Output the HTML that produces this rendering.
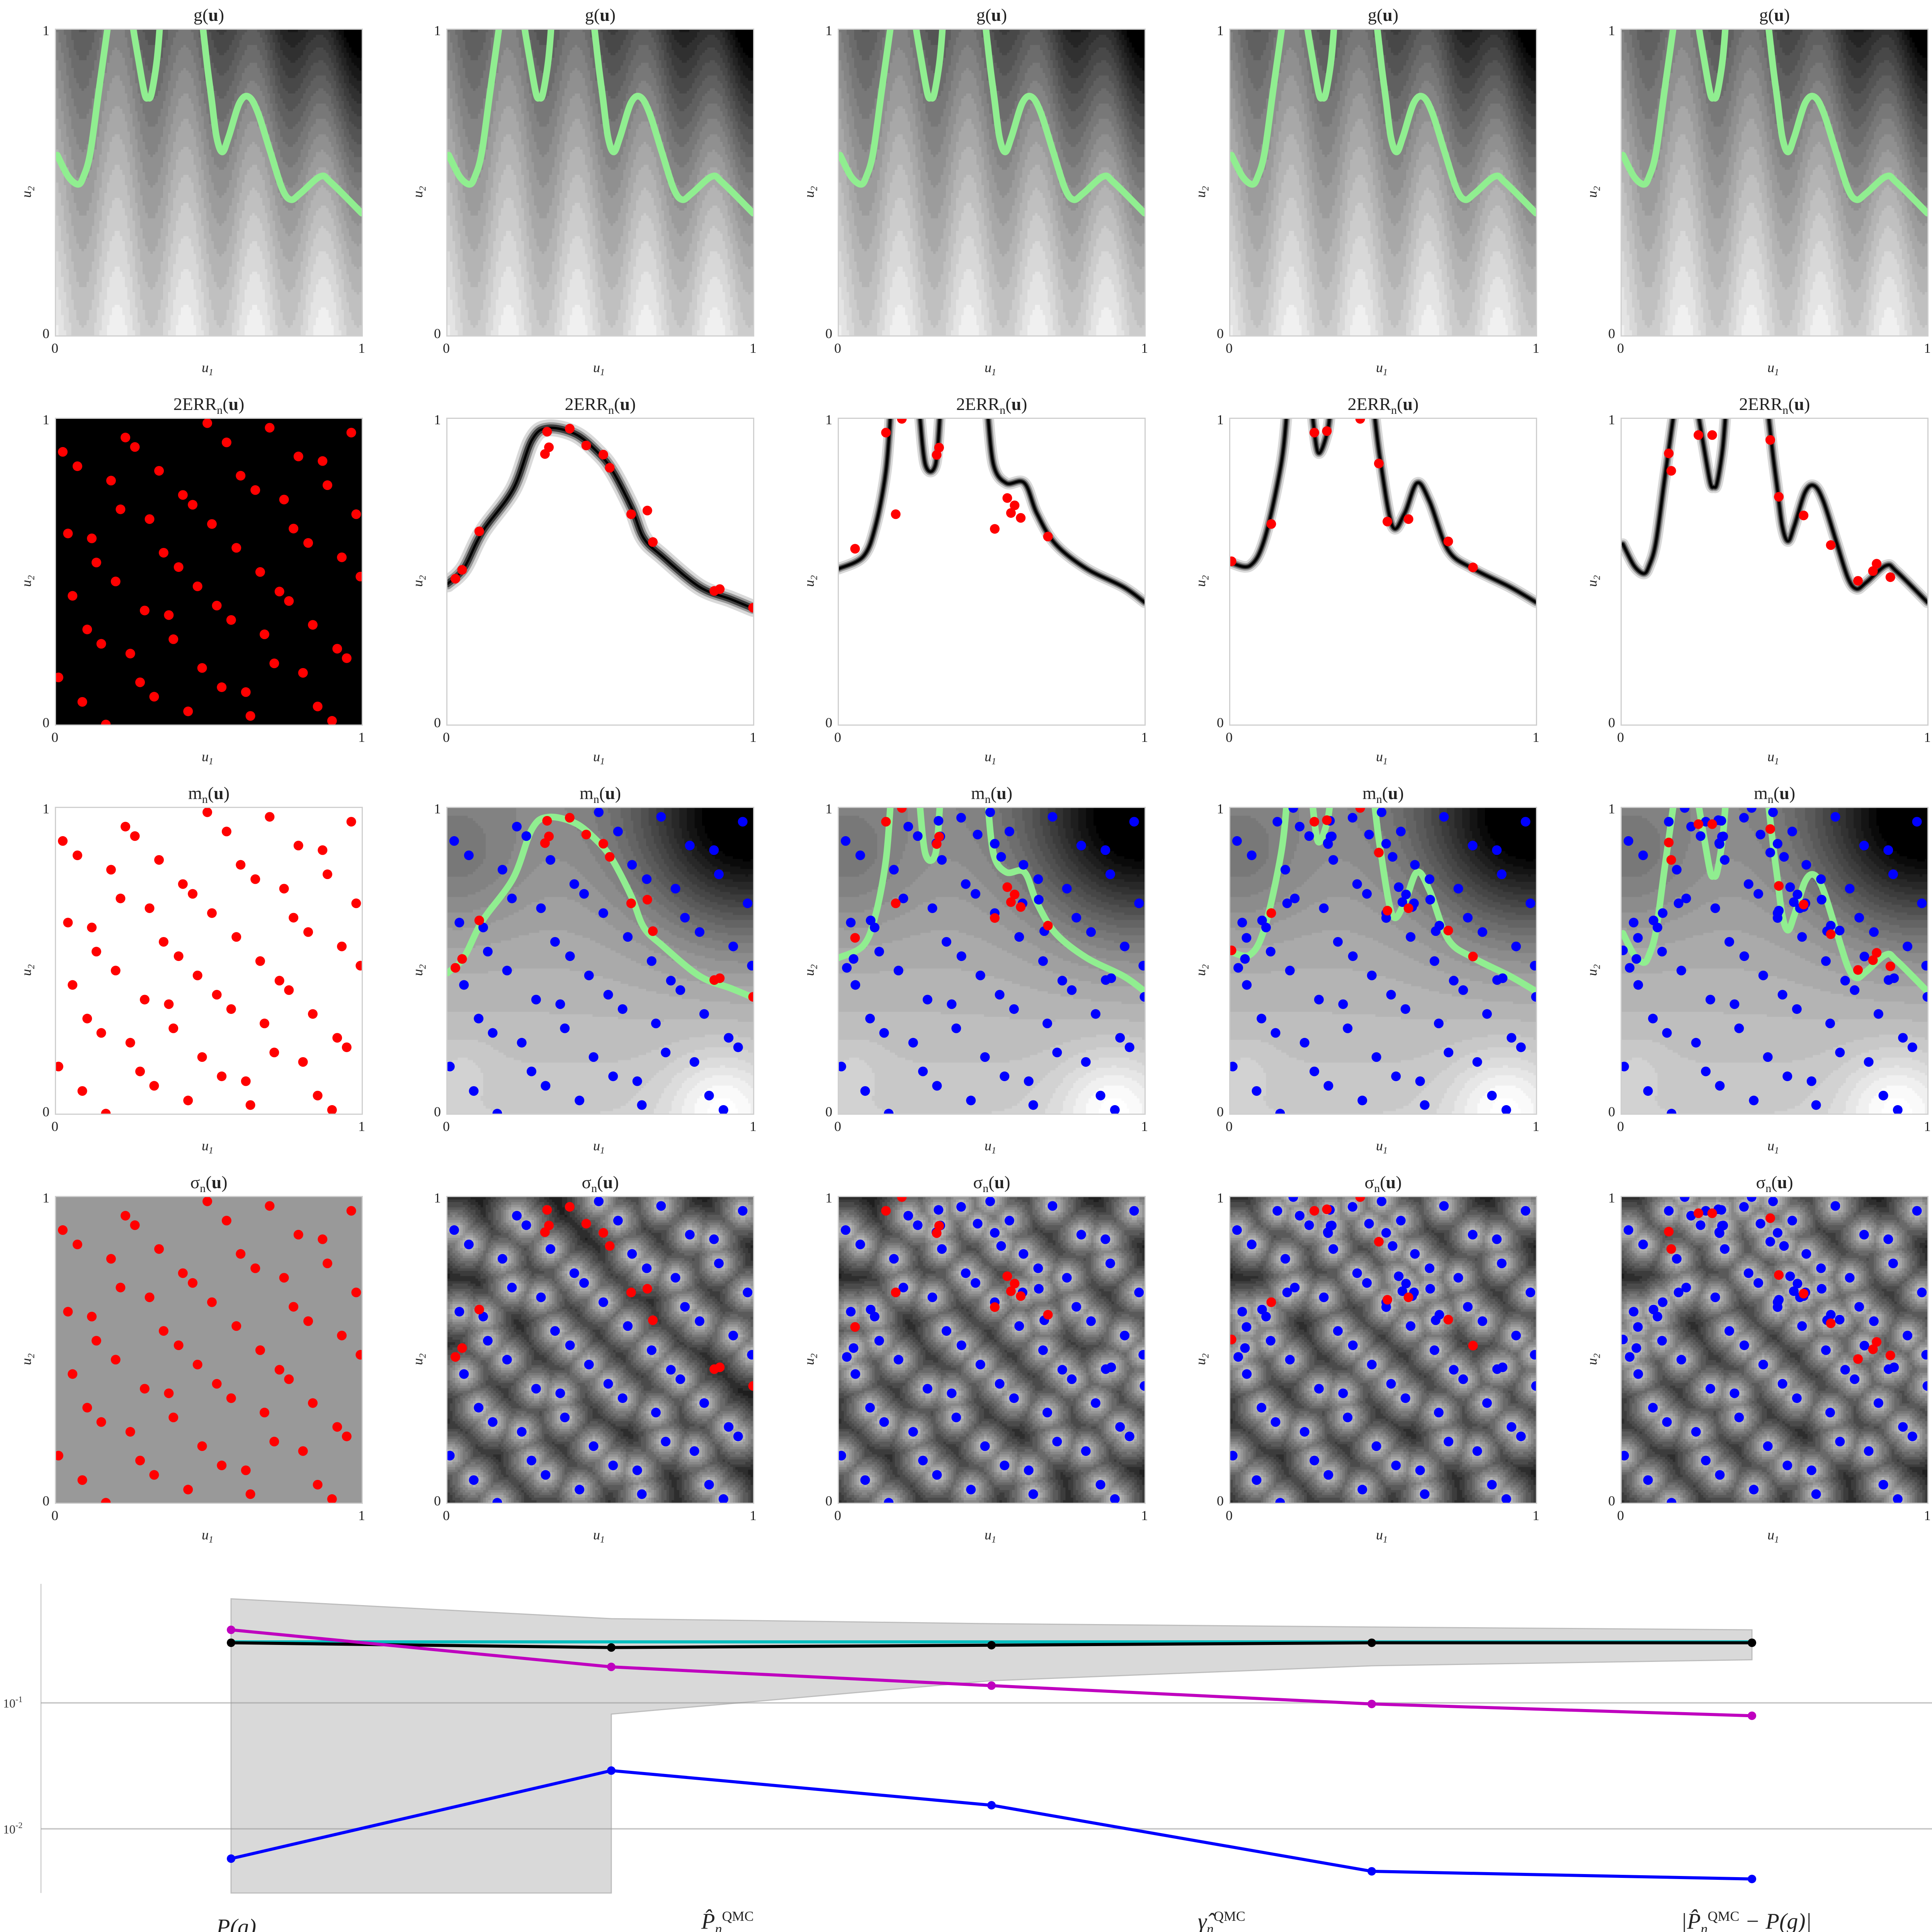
<!DOCTYPE html>
<html><head><meta charset="utf-8">
<style>
html,body{margin:0;padding:0;background:#fff;width:5043px;height:5072px;overflow:hidden;}
#root{position:absolute;left:0;top:0;width:5043px;height:5072px;overflow:hidden;font-family:"Liberation Serif",serif;}
.panel{position:absolute;width:797px;height:797px;box-sizing:border-box;border:3px solid #cfcfcf;background:#fff;overflow:hidden;}
.panel svg{position:absolute;left:0;top:0;width:791px;height:791px;overflow:hidden;}
.t{position:absolute;color:#222;white-space:nowrap;line-height:1.1;}
.title{font-size:46px;text-align:center;width:797px;}
.tick{font-size:36px;}
.alab{font-size:36px;font-style:italic;}
.leg{position:absolute;font-size:58px;font-style:italic;color:#222;white-space:nowrap;line-height:1.1;}
</style></head><body>
<div id="root">
<div id="grid" style="position:absolute;left:0;top:0;width:5043px;height:4050px;"></div>
<svg id="conv" style="position:absolute;left:0;top:4050px;display:block;" width="5043" height="1022" viewBox="0 0 5043 1022"></svg>
<div class="leg" style="left:560px;top:4955px;">P(g)</div>
<div class="leg" style="left:1815px;top:4940px;">P&#770;<sub style="font-size:36px">n</sub><sup style="font-size:36px;font-style:normal">QMC</sup></div>
<div class="leg" style="left:3100px;top:4940px;">&#947;&#770;<sub style="font-size:36px">n</sub><sup style="font-size:36px;font-style:normal">QMC</sup></div>
<div class="leg" style="left:4350px;top:4940px;">|P&#770;<sub style="font-size:36px">n</sub><sup style="font-size:36px;font-style:normal">QMC</sup> &#8722; P(g)|</div>
</div>
<script>
// ---------- data: point sets ----------
const basePts=[[0.495,0.986],[0.699,0.971],[0.966,0.955],[0.227,0.939],[0.258,0.908],[0.558,0.923],[0.022,0.892],[0.793,0.877],[0.872,0.862],[0.070,0.845],[0.337,0.830],[0.604,0.814],[0.180,0.798],[0.888,0.783],[0.652,0.767],[0.415,0.751],[0.447,0.719],[0.746,0.736],[0.211,0.704],[0.982,0.688],[0.306,0.672],[0.510,0.656],[0.039,0.625],[0.777,0.641],[0.117,0.609],[0.825,0.594],[0.590,0.578],[0.352,0.562],[0.935,0.547],[0.132,0.530],[0.401,0.515],[0.668,0.499],[0.996,0.484],[0.195,0.468],[0.463,0.452],[0.731,0.435],[0.054,0.421],[0.762,0.404],[0.526,0.389],[0.290,0.373],[0.369,0.358],[0.573,0.342],[0.840,0.326],[0.102,0.311],[0.682,0.295],[0.384,0.279],[0.148,0.264],[0.920,0.248],[0.243,0.232],[0.951,0.217],[0.714,0.200],[0.478,0.185],[0.808,0.169],[0.008,0.154],[0.275,0.138],[0.542,0.122],[0.621,0.106],[0.086,0.074],[0.321,0.091],[0.856,0.059],[0.432,0.043],[0.636,0.028],[0.903,0.012],[0.163,0.000]];
const reds2=[[0.326,0.958],[0.400,0.968],[0.332,0.907],[0.319,0.885],[0.454,0.913],[0.510,0.883],[0.531,0.840],[0.601,0.688],[0.654,0.700],[0.672,0.597],[0.104,0.632],[0.048,0.506],[0.026,0.477],[0.873,0.437],[0.891,0.443],[1.0,0.382]];
const reds3=[[0.154,0.955],[0.206,1.0],[0.328,0.906],[0.320,0.882],[0.551,0.741],[0.575,0.717],[0.563,0.692],[0.684,0.615],[0.595,0.676],[0.510,0.640],[0.053,0.575],[0.186,0.688]];
const reds4=[[0.275,0.955],[0.316,0.960],[0.425,1.0],[0.486,0.854],[0.514,0.664],[0.583,0.672],[0.713,0.599],[0.794,0.514],[0.134,0.656],[0.004,0.534]];
const reds5=[[0.251,0.947],[0.154,0.887],[0.162,0.830],[0.486,0.931],[0.514,0.745],[0.595,0.684],[0.684,0.587],[0.773,0.470],[0.822,0.502],[0.879,0.482],[0.834,0.526],[0.296,0.947]];
// ---------- data: limit-state curves ----------
const curveTrue=[[[0.004,0.59],[0.04,0.52],[0.072,0.494],[0.09,0.52],[0.112,0.597],[0.14,0.8],[0.172,1.03]],[[0.248,1.03],[0.27,0.9],[0.29,0.79],[0.301,0.777],[0.312,0.79],[0.33,0.9],[0.341,1.03]],[[0.478,1.03],[0.495,0.88],[0.509,0.773],[0.525,0.65],[0.544,0.60],[0.565,0.65],[0.6,0.76],[0.630,0.781],[0.66,0.73],[0.702,0.598],[0.74,0.48],[0.768,0.444],[0.8,0.465],[0.865,0.52],[0.9,0.5],[1.0,0.40]]];
const curve2=[[[0,0.46],[0.053,0.51],[0.114,0.63],[0.215,0.77],[0.276,0.93],[0.329,0.97],[0.419,0.95],[0.492,0.89],[0.54,0.83],[0.602,0.71],[0.642,0.61],[0.703,0.55],[0.825,0.45],[0.927,0.41],[1,0.38]]];
const curve3=[[[0,0.51],[0.08,0.55],[0.12,0.65],[0.154,0.83],[0.17,1.03]],[[0.263,1.03],[0.283,0.85],[0.316,0.85],[0.332,1.03]],[[0.486,1.03],[0.506,0.85],[0.547,0.79],[0.607,0.79],[0.648,0.69],[0.709,0.59],[0.81,0.51],[0.931,0.45],[1,0.40]]];
const curve4=[[[0,0.53],[0.065,0.52],[0.113,0.61],[0.166,0.85],[0.186,1.03]],[[0.267,1.03],[0.287,0.89],[0.316,0.95],[0.328,1.03]],[[0.470,1.03],[0.49,0.87],[0.53,0.65],[0.57,0.69],[0.611,0.79],[0.652,0.73],[0.713,0.57],[0.794,0.51],[0.915,0.45],[1,0.40]]];
// ---------- data: convergence chart ----------
const iterations=[0,1,2,3,4];
const probTrue=[0.305,0.305,0.305,0.305,0.305];
const probEst=[0.30,0.275,0.287,0.30,0.30];
const gammaEst=[0.38,0.193,0.137,0.098,0.079];
const absErr=[0.0058,0.029,0.0154,0.0046,0.0040];
const bandUpper=[0.67,0.466,0.425,0.40,0.38];
const bandLower=[null,0.0815,0.15,0.197,0.22];
const yTickVals=[0.1,0.01];
const yTickExp=["-1","-2"];

const NS='http://www.w3.org/2000/svg';
const S=791;
const grid=document.getElementById('grid');
const redsByCol=[null,reds2,reds3,reds4,reds5];
const estCurves=[null,curve2,curve3,curve4,curveTrue];
const titles=['g(<b>u</b>)','2ERR<sub style="font-size:30px">n</sub>(<b>u</b>)','m<sub style="font-size:30px">n</sub>(<b>u</b>)','&#963;<sub style="font-size:30px">n</sub>(<b>u</b>)'];
const rowNames=['g','err','mean','sigma'];

function sx(u){return u*S;}
function sy(v){return (1-v)*S;}
function pathD(pts){
  const P=pts.map(p=>[sx(p[0]),sy(p[1])]);
  let d='M'+P[0][0].toFixed(1)+' '+P[0][1].toFixed(1);
  for(let i=0;i<P.length-1;i++){
    const p0=P[i-1]||P[i],p1=P[i],p2=P[i+1],p3=P[i+2]||P[i+1];
    const c1=[p1[0]+(p2[0]-p0[0])/6,p1[1]+(p2[1]-p0[1])/6];
    const c2=[p2[0]-(p3[0]-p1[0])/6,p2[1]-(p3[1]-p1[1])/6];
    d+=' C'+c1[0].toFixed(1)+' '+c1[1].toFixed(1)+' '+c2[0].toFixed(1)+' '+c2[1].toFixed(1)+' '+p2[0].toFixed(1)+' '+p2[1].toFixed(1);
  }
  return d;
}
function q(v,levels){return Math.round(v/levels)*levels;}
function gField(u1,u2){
  const w=Math.cos(2*Math.PI*(u1-0.2)/0.225);
  let V=0.42*u2+0.55*Math.pow(u1,2.5)*u2*u2-0.1*w+0.1*u2*u2;
  let g=222-215*V;
  return q(Math.max(0,Math.min(250,g)),12);
}
function mField(u1,u2){
  let g=205-60*u2-170*Math.exp(-((u1-0.98)**2+(u2-0.95)**2)/0.12)+55*Math.exp(-((u1-0.9)**2+(u2-0.02)**2)/0.03)-35*Math.exp(-((u1-0.03)**2+(u2-0.82)**2)/0.05)+12*Math.exp(-((u1-0.05)**2+(u2-0.15)**2)/0.01);
  return q(Math.max(0,Math.min(255,g)),10);
}
function sField(u1,u2,pts){
  let m=1e9;
  for(const p of pts){const d=(u1-p[0])**2+(u2-p[1])**2;if(d<m)m=d;}
  const d=Math.sqrt(m);
  let t=Math.min(1,d/0.12);
  let g=245-210*Math.pow(t,0.6);
  return q(Math.max(10,g),15);
}
// field rendered as run-length-merged SVG rects (no canvas)
function drawField(svg,fn){
  const N=120,cell=S/N;
  const g=document.createElementNS(NS,'g');
  g.setAttribute('shape-rendering','crispEdges');
  
  
  let html='';
  for(let j=0;j<N;j++){
    let start=0,cur=fn(0.5/N,1-(j+0.5)/N);
    for(let i=1;i<=N;i++){
      const v=i<N?fn((i+0.5)/N,1-(j+0.5)/N):-1;
      if(v!==cur){
        html+='<rect x="'+(start*cell).toFixed(2)+'" y="'+(j*cell).toFixed(2)+'" width="'+((i-start)*cell+0.8).toFixed(2)+'" height="'+(cell+0.8).toFixed(2)+'" fill="rgb('+cur+','+cur+','+cur+')"/>';
        start=i;cur=v;
      }
    }
  }
  g.innerHTML=html;
  svg.appendChild(g);
}
function drawFlat(svg,gray){
  const r=document.createElementNS(NS,'rect');
  r.setAttribute('width',S);r.setAttribute('height',S);r.setAttribute('fill','rgb('+gray+','+gray+','+gray+')');
  
  
  svg.appendChild(r);
}
function addDots(svg,pts,color,name){
  for(const p of pts){
    const c=document.createElementNS(NS,'circle');
    c.setAttribute('cx',sx(p[0]));c.setAttribute('cy',sy(p[1]));c.setAttribute('r',12.5);c.setAttribute('fill',color);
    
    
    svg.appendChild(c);
  }
}
function addCurve(svg,segs,color,width,opacity,name){
  for(const s of segs){
    const p=document.createElementNS(NS,'path');
    p.setAttribute('d',pathD(s));p.setAttribute('fill','none');p.setAttribute('stroke',color);
    p.setAttribute('stroke-width',width);p.setAttribute('stroke-linecap','round');
    if(opacity<1)p.setAttribute('stroke-opacity',opacity);
    
    
    svg.appendChild(p);
  }
}
function txt(parent,cls,html,l,t,name,extra){
  const d=document.createElement('div');d.className='t '+cls;d.innerHTML=html;
  d.style.left=l+'px';d.style.top=t+'px';if(extra)d.style.cssText+=extra;
  
  
  parent.appendChild(d);return d;
}
for(let r=0;r<4;r++)for(let c=0;c<5;c++){
  const L=142+1013*c,T=74+1007*r;
  const pan=document.createElement('div');pan.className='panel';
  pan.style.left=L+'px';pan.style.top=T+'px';
  
  
  grid.appendChild(pan);
  const svg=document.createElementNS(NS,'svg');
  svg.setAttribute('viewBox','0 0 '+S+' '+S);
  pan.appendChild(svg);
  let blue=basePts.slice();for(let k=1;k<c;k++)blue=blue.concat(redsByCol[k]);
  const reds=c===0?basePts:redsByCol[c];
  if(r===0){drawField(svg,gField);addCurve(svg,curveTrue,'#90ee90',17,1,'limit-state-curve');}
  else if(r===1){
    if(c===0){drawFlat(svg,0);}
    else{
      drawFlat(svg,255);
      const wMax=c===1?44:30;
      addCurve(svg,estCurves[c],'#000',wMax,0.15,'error-band-halo');
      addCurve(svg,estCurves[c],'#000',wMax*0.65,0.3,'error-band-halo');
      addCurve(svg,estCurves[c],'#000',wMax*0.4,0.6,'error-band');
      addCurve(svg,estCurves[c],'#000',6,1,'error-band-core');
    }
    addDots(svg,reds,'#ff0000','new-sample-point');
  }
  else if(r===2){
    if(c===0){drawFlat(svg,255);}
    else{drawField(svg,mField);addCurve(svg,estCurves[c],'#90ee90',17,1,'estimated-limit-curve');addDots(svg,blue,'#0000ff','design-point');}
    addDots(svg,reds,'#ff0000','new-sample-point');
  }
  else{
    if(c===0){drawFlat(svg,153);}
    else{drawField(svg,(a,b)=>sField(a,b,blue));addDots(svg,blue,'#0000ff','design-point');}
    addDots(svg,reds,'#ff0000','new-sample-point');
  }
  txt(grid,'title',titles[r],L,T-60,'panel-title');
  txt(grid,'tick','1',L-32,T-14,'y-tick-1');
  txt(grid,'tick','0',L-32,T+770,'y-tick-0');
  txt(grid,'tick','0',L-9,T+808,'x-tick-0');
  txt(grid,'tick','1',L+785,T+808,'x-tick-1');
  txt(grid,'alab','u<sub style="font-size:24px">1</sub>',L+380,T+858,'x-axis-label');
  txt(grid,'alab','u<sub style="font-size:24px">2</sub>',L-85,T+400,'y-axis-label','transform:rotate(-90deg);transform-origin:center;');
}
// ---------- convergence chart ----------
const cs=document.getElementById('conv');
const OY=4050;
function xPos(i){return 598+i*984;}
function yPos(v){return 4407-OY-(Math.log10(v)+1)*326;}
const yBot=4899-OY,yTop=4099-OY;
function el(tag,attrs,name){
  const e=document.createElementNS(NS,tag);for(const k in attrs)e.setAttribute(k,attrs[k]);
  
  
  cs.appendChild(e);return e;
}
el('line',{x1:106,x2:106,y1:yTop,y2:yBot,stroke:'#d0d0d0','stroke-width':3},'y-axis-line');
let bp=[];
iterations.forEach(i=>bp.push([xPos(i),yPos(bandUpper[i])]));
for(let i=iterations.length-1;i>=0;i--){
  if(bandLower[i]!=null){bp.push([xPos(i),yPos(bandLower[i])]);if(i>0&&bandLower[i-1]==null)bp.push([xPos(i),yBot]);}
  else bp.push([xPos(i),yBot]);
}
el('polygon',{points:bp.map(p=>p.join(',')).join(' '),fill:'#d9d9d9',stroke:'#bdbdbd','stroke-width':3},'confidence-band');
yTickVals.forEach((v,i)=>{
  el('line',{x1:106,x2:5043,y1:yPos(v),y2:yPos(v),stroke:'rgba(150,150,150,0.5)','stroke-width':4},'gridline');
  const t=el('text',{x:8,y:yPos(v)+12,'font-size':32,fill:'#333','font-family':'Liberation Serif'},'y-tick-label');
  t.innerHTML='10<tspan dy="-14" font-size="22">'+yTickExp[i]+'</tspan>';
});
function series(vals,color,name,markers){
  el('polyline',{points:iterations.map(i=>xPos(i)+','+yPos(vals[i])).join(' '),fill:'none',stroke:color,'stroke-width':8},name+'-line');
  if(markers)iterations.forEach(i=>el('circle',{cx:xPos(i),cy:yPos(vals[i]),r:11,fill:color},name+'-marker'));
}
series(probTrue,'#00bfbf','p-true',false);
series(probEst,'#000000','p-estimate',true);
series(gammaEst,'#bf00bf','gamma-estimate',true);
series(absErr,'#0000ff','abs-error',true);
const legX=[[379,508],[1633,1762],[2920,3048],[4190,4318]];
const legC=['#00bfbf','#000000','#bf00bf','#0000ff'];
legX.forEach((p,i)=>{
  el('line',{x1:p[0],x2:p[1],y1:994,y2:994,stroke:legC[i],'stroke-width':8},'legend-handle');
  if(i>0)el('circle',{cx:(p[0]+p[1])/2,cy:994,r:11,fill:legC[i]},'legend-marker');
});
</script>
</body></html>
